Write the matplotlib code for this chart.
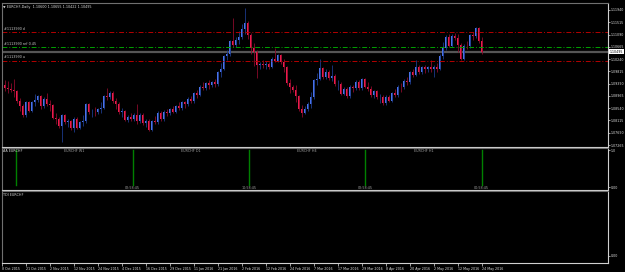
import matplotlib
matplotlib.use("Agg")
import matplotlib.pyplot as plt
import numpy as np

# EURCHF daily candles (oldest first)
opens = [1.0930, 1.0934, 1.0925, 1.0922, 1.0916, 1.0912, 1.0878, 1.0863, 1.0830, 1.0875,
         1.0845, 1.0874, 1.0881, 1.0895, 1.0860, 1.0887, 1.0868, 1.0865, 1.0821, 1.0818,
         1.0791, 1.0829, 1.0805, 1.0808, 1.0785, 1.0817, 1.0786, 1.0805, 1.0808, 1.0867,
         1.0840, 1.0842, 1.0840, 1.0851, 1.0855, 1.0895, 1.0891, 1.0908, 1.0878, 1.0870,
         1.0840, 1.0844, 1.0814, 1.0822, 1.0815, 1.0832, 1.0808, 1.0832, 1.0802, 1.0810,
         1.0779, 1.0808, 1.0805, 1.0839, 1.0815, 1.0842, 1.0837, 1.0851, 1.0842, 1.0860,
         1.0853, 1.0874, 1.0867, 1.0887, 1.0878, 1.0906, 1.0900, 1.0929, 1.0923, 1.0940,
         1.0936, 1.0943, 1.0937, 1.0979, 1.0990, 1.1033, 1.1040, 1.1085, 1.1072, 1.1091,
         1.1100, 1.1128, 1.1150, 1.1109, 1.1061, 1.1050, 1.1002, 1.1008, 1.1003, 1.1007,
         1.0997, 1.1026, 1.1019, 1.1037, 1.1013, 1.0995, 1.0941, 1.0927, 1.0918, 1.0895,
         1.0850, 1.0838, 1.0850, 1.0870, 1.0892, 1.0951, 1.0956, 1.0992, 1.0961, 1.0981,
         1.0957, 1.0967, 1.0937, 1.0938, 1.0904, 1.0922, 1.0895, 1.0929, 1.0923, 1.0946,
         1.0923, 1.0955, 1.0928, 1.0920, 1.0898, 1.0912, 1.0891, 1.0894, 1.0871, 1.0893,
         1.0880, 1.0905, 1.0898, 1.0929, 1.0926, 1.0949, 1.0944, 1.0979, 1.0970, 1.0998,
         1.0978, 1.0995, 1.0988, 1.0995, 1.0989, 1.0997, 1.0990, 1.1036, 1.1061, 1.1102,
         1.1071, 1.1105, 1.1096, 1.1073, 1.1025, 1.1071, 1.1068, 1.1106, 1.1103, 1.1130,
         1.1086]
closes = [1.0934, 1.0925, 1.0922, 1.0916, 1.0912, 1.0878, 1.0863, 1.0830, 1.0875, 1.0845,
          1.0874, 1.0881, 1.0895, 1.0860, 1.0887, 1.0868, 1.0865, 1.0821, 1.0818, 1.0791,
          1.0829, 1.0805, 1.0808, 1.0785, 1.0817, 1.0786, 1.0805, 1.0808, 1.0867, 1.0840,
          1.0842, 1.0840, 1.0851, 1.0855, 1.0895, 1.0891, 1.0908, 1.0878, 1.0870, 1.0840,
          1.0844, 1.0814, 1.0822, 1.0815, 1.0832, 1.0808, 1.0832, 1.0802, 1.0810, 1.0779,
          1.0808, 1.0805, 1.0839, 1.0815, 1.0842, 1.0837, 1.0851, 1.0842, 1.0860, 1.0853,
          1.0874, 1.0867, 1.0887, 1.0878, 1.0906, 1.0900, 1.0929, 1.0923, 1.0940, 1.0936,
          1.0943, 1.0937, 1.0979, 1.0990, 1.1033, 1.1040, 1.1085, 1.1072, 1.1091, 1.1100,
          1.1128, 1.1150, 1.1109, 1.1061, 1.1050, 1.1002, 1.1008, 1.1003, 1.1007, 1.0997,
          1.1026, 1.1019, 1.1037, 1.1013, 1.0995, 1.0941, 1.0927, 1.0918, 1.0895, 1.0850,
          1.0838, 1.0850, 1.0870, 1.0892, 1.0951, 1.0956, 1.0992, 1.0961, 1.0981, 1.0957,
          1.0967, 1.0937, 1.0938, 1.0904, 1.0922, 1.0895, 1.0929, 1.0923, 1.0946, 1.0923,
          1.0955, 1.0928, 1.0920, 1.0898, 1.0912, 1.0891, 1.0894, 1.0871, 1.0893, 1.0880,
          1.0905, 1.0898, 1.0929, 1.0926, 1.0949, 1.0944, 1.0979, 1.0970, 1.0998, 1.0978,
          1.0995, 1.0988, 1.0995, 1.0989, 1.0997, 1.0990, 1.1036, 1.1061, 1.1102, 1.1071,
          1.1105, 1.1096, 1.1073, 1.1025, 1.1071, 1.1068, 1.1106, 1.1103, 1.1130, 1.1086,
          1.1050]
highs = [1.0945, 1.0952, 1.0948, 1.0940, 1.0956, 1.0917, 1.0890, 1.0868, 1.0880, 1.0880,
         1.0880, 1.0902, 1.0900, 1.0900, 1.0892, 1.0908, 1.0884, 1.0870, 1.0838, 1.0823,
         1.0834, 1.0834, 1.0818, 1.0813, 1.0822, 1.0822, 1.0810, 1.0830, 1.0872, 1.0872,
         1.0850, 1.0858, 1.0856, 1.0876, 1.0900, 1.0925, 1.0913, 1.0913, 1.0888, 1.0875,
         1.0855, 1.0849, 1.0832, 1.0836, 1.0837, 1.0870, 1.0837, 1.0837, 1.0818, 1.0815,
         1.0813, 1.0826, 1.0844, 1.0844, 1.0847, 1.0852, 1.0856, 1.0860, 1.0866, 1.0874,
         1.0879, 1.0880, 1.0892, 1.0895, 1.0911, 1.0918, 1.0934, 1.0944, 1.0945, 1.0950,
         1.0948, 1.0955, 1.0984, 1.1010, 1.1038, 1.1055, 1.1090, 1.1166, 1.1100, 1.1122,
         1.1145, 1.1201, 1.1155, 1.1114, 1.1080, 1.1055, 1.1015, 1.1020, 1.1018, 1.1015,
         1.1031, 1.1062, 1.1042, 1.1042, 1.1024, 1.1000, 1.0956, 1.0936, 1.0934, 1.0900,
         1.0866, 1.0862, 1.0875, 1.0910, 1.0956, 1.0975, 1.1026, 1.0997, 1.0990, 1.0986,
         1.1002, 1.0972, 1.0952, 1.0943, 1.0928, 1.0927, 1.0934, 1.0936, 1.0951, 1.0951,
         1.0960, 1.0960, 1.0945, 1.0930, 1.0918, 1.0917, 1.0902, 1.0899, 1.0898, 1.0898,
         1.0910, 1.0920, 1.0934, 1.0940, 1.0954, 1.0962, 1.0984, 1.0990, 1.1020, 1.1003,
         1.1000, 1.1002, 1.1000, 1.1022, 1.1004, 1.1010, 1.1041, 1.1082, 1.1107, 1.1110,
         1.1110, 1.1115, 1.1110, 1.1078, 1.1076, 1.1088, 1.1111, 1.1118, 1.1135, 1.1135,
         1.1100]
lows = [1.0912, 1.0915, 1.0905, 1.0910, 1.0892, 1.0872, 1.0845, 1.0825, 1.0825, 1.0840,
        1.0840, 1.0862, 1.0875, 1.0852, 1.0855, 1.0863, 1.0845, 1.0816, 1.0800, 1.0786,
        1.0738, 1.0798, 1.0789, 1.0780, 1.0770, 1.0781, 1.0781, 1.0792, 1.0803, 1.0835,
        1.0825, 1.0828, 1.0833, 1.0836, 1.0850, 1.0884, 1.0886, 1.0873, 1.0852, 1.0835,
        1.0824, 1.0809, 1.0806, 1.0810, 1.0810, 1.0800, 1.0803, 1.0797, 1.0790, 1.0774,
        1.0774, 1.0798, 1.0800, 1.0810, 1.0810, 1.0828, 1.0832, 1.0836, 1.0837, 1.0848,
        1.0848, 1.0855, 1.0862, 1.0872, 1.0873, 1.0890, 1.0895, 1.0918, 1.0918, 1.0922,
        1.0926, 1.0928, 1.0932, 1.0962, 1.0985, 1.1020, 1.1035, 1.1066, 1.1067, 1.1076,
        1.1095, 1.1110, 1.1095, 1.1040, 1.1000, 1.0960, 1.0990, 1.0993, 1.0988, 1.0990,
        1.0992, 1.1014, 1.1014, 1.1008, 1.0978, 1.0936, 1.0905, 1.0910, 1.0876, 1.0845,
        1.0822, 1.0833, 1.0845, 1.0856, 1.0887, 1.0935, 1.0951, 1.0956, 1.0956, 1.0952,
        1.0948, 1.0932, 1.0918, 1.0899, 1.0899, 1.0890, 1.0890, 1.0910, 1.0918, 1.0918,
        1.0918, 1.0923, 1.0915, 1.0893, 1.0888, 1.0885, 1.0872, 1.0866, 1.0866, 1.0875,
        1.0875, 1.0893, 1.0893, 1.0910, 1.0921, 1.0935, 1.0939, 1.0962, 1.0965, 1.0973,
        1.0972, 1.0976, 1.0978, 1.0980, 1.0962, 1.0980, 1.0985, 1.1025, 1.1056, 1.1066,
        1.1066, 1.1090, 1.1050, 1.1020, 1.1020, 1.1058, 1.1063, 1.1090, 1.1098, 1.1081,
        1.1042]

date_labels = ["8 Oct 2015", "21 Oct 2015", "2 Nov 2015", "12 Nov 2015", "24 Nov 2015",
               "4 Dec 2015", "16 Dec 2015", "29 Dec 2015", "11 Jan 2016", "21 Jan 2016",
               "2 Feb 2016", "12 Feb 2016", "24 Feb 2016", "7 Mar 2016", "17 Mar 2016",
               "29 Mar 2016", "8 Apr 2016", "20 Apr 2016", "2 May 2016", "12 May 2016",
               "24 May 2016"]
price_ticks = [1.11940, 1.11515, 1.11090, 1.10665, 1.10240, 1.09815,
               1.09390, 1.08965, 1.08540, 1.08115, 1.07690, 1.07265]

# levels drawn on the chart
levels = [1.1118, 1.1067, 1.1019]
level_names = ["#1113990 d", "#1113990 ref 0.45", "#1113990 u"]
level_colors = ["#b40000", "#00a000", "#b40000"]
bid = 1.10495

# AA EURCHF pane: period separators and labels
tf_marks = [4.9, 43.6, 82.4, 121.2, 160.0]
tf_names = ["EURCHF W1", "EURCHF D1", "EURCHF H4", "EURCHF H1"]
tf_timers = ["02:58:45", "10:58:45", "02:58:45", "00:58:45"]

W, H = 625, 272
fig = plt.figure(figsize=(W / 100, H / 100), dpi=100, facecolor="black")

def pane(top, bottom):
    ax = fig.add_axes([2 / W, 1 - bottom / H, 606 / W, (bottom - top) / H])
    ax.set_facecolor("black")
    for s in ax.spines.values():
        s.set_color("#d0d0d0")
        s.set_linewidth(0.8)
    ax.spines["left"].set_color("#707070")
    ax.spines["top"].set_color("#707070")
    return ax

x0, x1 = (2 - 1.7) / 3, (608 - 1.7) / 3
fs = 2.4
tick_kw = dict(colors="#e0e0e0", labelsize=2.3, length=1.5, width=0.5, pad=0.6)

# main price pane
ax = pane(3, 147)
o = np.array(opens); c = np.array(closes)
up = c >= o
idx = np.arange(len(c))
wick_col = np.where(up, "#1c3a8a", "#8a0a2a")
body_col = np.where(up, "#4a72e8", "#ea1c4c")
ax.vlines(idx, lows, highs, colors=wick_col, linewidth=0.6)
ax.bar(idx, np.maximum(np.abs(c - o), 0.00008), bottom=np.minimum(o, c), width=0.72,
       color=body_col, linewidth=0)

for lv, nm, col in zip(levels, level_names, level_colors):
    ax.axhline(lv, color=col, linestyle=(0, (5, 2, 1, 2)), linewidth=0.7)
    ax.text(0.6, lv + 0.0004, nm, color="#c8c8c8", fontsize=fs, va="bottom", ha="left")
ax.axhline(bid, color="#555555", linewidth=1.6, zorder=0)

ax.set_xlim(x0, x1)
ax.set_ylim(1.07196, 1.12182)
ax.yaxis.tick_right()
ax.set_yticks(price_ticks)
ax.set_yticklabels(["%.5f" % p for p in price_ticks])
ax.tick_params(axis="y", **tick_kw)
ax.set_xticks([])
ax.text(1.003, bid, "%.5f" % bid, transform=ax.get_yaxis_transform(), fontsize=2.3,
        color="black", va="center", ha="left",
        bbox=dict(boxstyle="square,pad=0.15", fc="white", ec="none"))
ax.text(0.002, 0.985, "\u25bc EURCHF,Daily  1.10600 1.10655 1.10422 1.10495",
        transform=ax.transAxes, color="#d8d8d8", fontsize=fs, va="top", ha="left")

# AA indicator pane
ax2 = pane(148, 190)
ax2.set_xlim(x0, x1)
ax2.set_ylim(0, 1)
for m in tf_marks:
    ax2.axvline(m, ymin=0.12, ymax=0.95, color="#008000", linewidth=1.0)
for k, nm in enumerate(tf_names):
    ax2.text((tf_marks[k] + tf_marks[k + 1]) / 2, 0.93, nm, color="#a0a0a0",
             fontsize=fs, ha="center", va="center")
    ax2.text(tf_marks[k + 1], 0.05, tf_timers[k], color="#a0a0a0",
             fontsize=fs, ha="center", va="center")
ax2.text(0.002, 0.93, "AA EURCHF", transform=ax2.transAxes, color="#d8d8d8",
         fontsize=fs, va="center", ha="left")
ax2.yaxis.tick_right()
ax2.set_yticks([0.06, 0.95])
ax2.set_yticklabels(["0.00", "1.0"])
ax2.tick_params(axis="y", **tick_kw)
ax2.set_xticks([])

# TDI pane with the date axis
ax3 = pane(191, 263)
ax3.set_xlim(x0, x1)
ax3.set_ylim(0, 1)
ax3.text(0.002, 0.97, "TDI EURCHF", transform=ax3.transAxes, color="#d8d8d8",
         fontsize=fs, va="top", ha="left")
ax3.yaxis.tick_right()
ax3.set_yticks([0.1])
ax3.set_yticklabels(["0.00"])
ax3.tick_params(axis="y", **tick_kw)
ax3.set_xticks(np.arange(0, 8 * len(date_labels), 8))
ax3.set_xticklabels(date_labels, ha="left")
ax3.tick_params(axis="x", colors="#e0e0e0", labelsize=2.3, length=2.5, width=0.5,
                pad=0.5, direction="out")

fig.savefig("out.png", dpi=100, facecolor="black")
